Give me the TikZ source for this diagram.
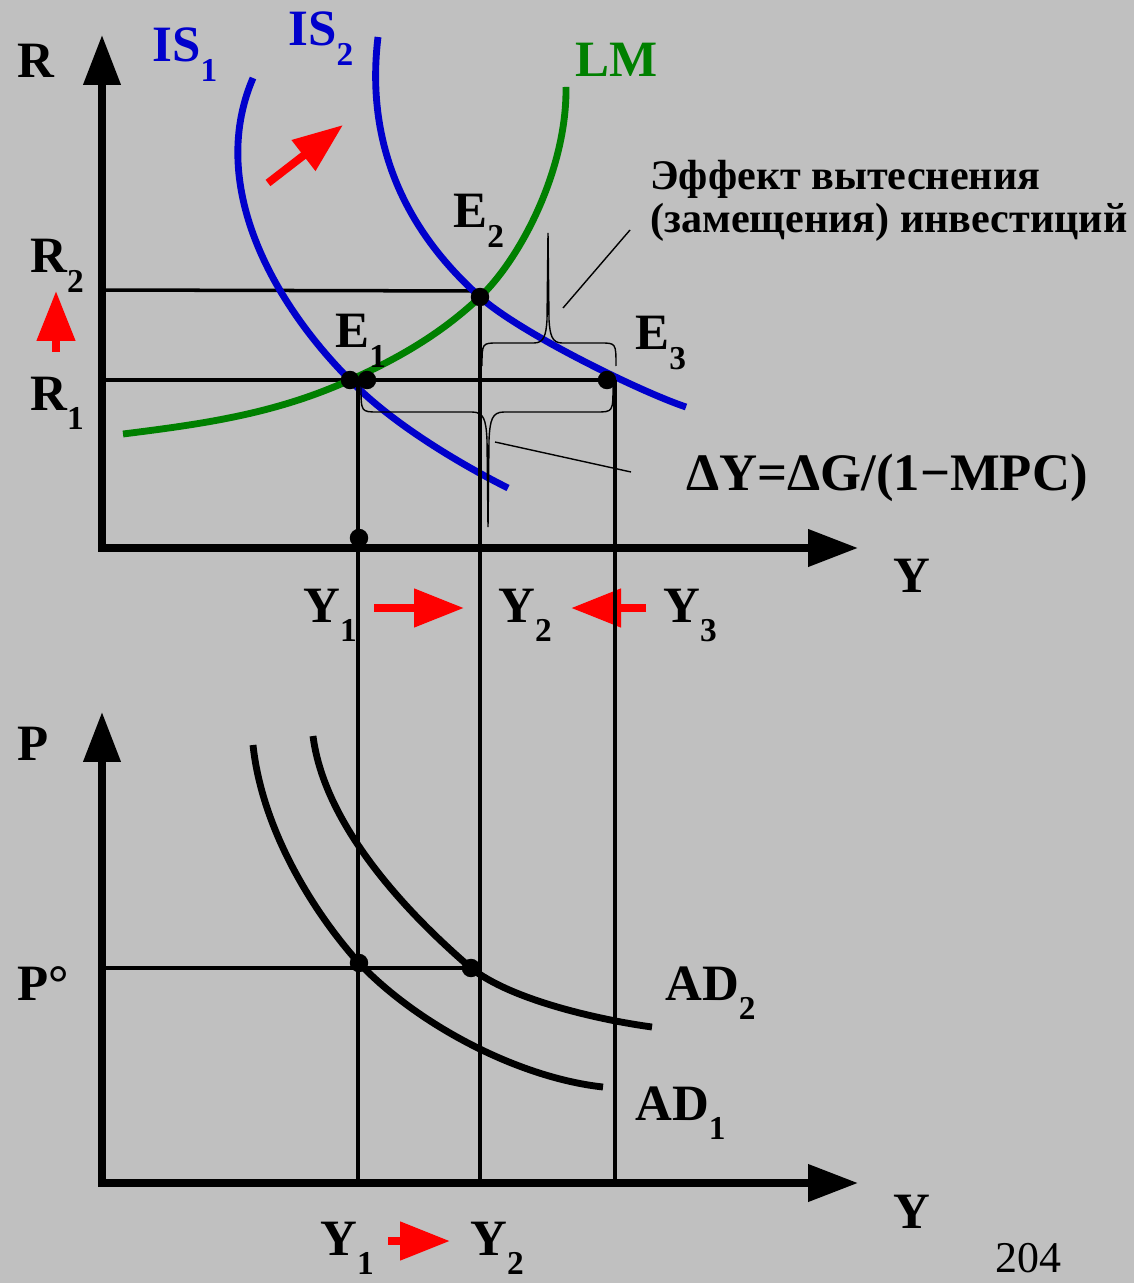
\documentclass[tikz,border=0pt]{standalone}
\usepackage{fontspec}
\setmainfont{Liberation Serif}
\usetikzlibrary{arrows.meta}
\definecolor{slide}{RGB}{192,192,192}
\definecolor{isblue}{RGB}{0,0,204}
\definecolor{lmgreen}{RGB}{0,128,0}
\newcommand\subidx[1]{\raisebox{-11pt}{\fontsize{19}{19}\selectfont #1}}

\begin{document}
\begin{tikzpicture}[
  x=0.02cm, y=-0.02cm,
  font=\fontsize{29}{34}\selectfont\bfseries,
  lbl/.style={anchor=base west, inner sep=0pt},
  note/.style={lbl, font=\fontsize{24}{28}\selectfont\bfseries},
  axis/.style={line width=4.2pt, {Triangle[length=1cm,width=0.72cm]}-{Triangle[length=1cm,width=0.72cm]}},
  guide/.style={line width=2pt},
  iscurve/.style={draw=isblue, line width=3.9pt},
  lmcurve/.style={draw=lmgreen, line width=3.9pt},
  adcurve/.style={draw=black, line width=3.9pt},
  dot/.style={circle, fill=black, inner sep=0pt, minimum size=10.5pt},
  brace/.style={line width=0.8pt},
  move/.style={draw=red, line width=4.5pt, -{Triangle[length=1cm,width=0.74cm]}}
]
\useasboundingbox (0,0) rectangle (1134,1283);
\fill[slide] (0,0) rectangle (1134,1283);

% top panel: IS-LM
\coordinate (rtip) at (102,35);
\coordinate (o1)   at (102,548);
\coordinate (ytip) at (858,548);
\draw[axis] (rtip) -- (o1) -- (ytip);

\coordinate (r1) at (102,380);
\coordinate (r2) at (102,290);
\coordinate (v1) at (358,380);
\coordinate (v3) at (615,380);
\draw[guide] (r2) -- (480,291);
\draw[guide] (r1) -- (v3);

\draw[iscurve] (253,78) .. controls (205,190) and (280,310) .. (350,380)
  .. controls (390,422) and (458,463) .. (508,488);
\draw[iscurve] (378,37) .. controls (362,170) and (430,252) .. (480,297)
  .. controls (520,333) and (641,392) .. (686,407);
\draw[lmcurve] (123,434) .. controls (203,424) and (275,414) .. (350,380)
  .. controls (395,360) and (440,335) .. (480,297)
  .. controls (520,259) and (567,170) .. (566,87);

\node[dot] (e1)  at (350,380) {};
\node[dot] (e1b) at (367,380) {};
\node[dot] (e2)  at (480,297) {};
\node[dot] (e3)  at (607,380) {};
\node[dot] (y1)  at (359,538) {};

\node[lbl, text=isblue]  (is1) at (152,62) {IS\subidx{1}};
\node[lbl, text=isblue]  (is2) at (288,46) {IS\subidx{2}};
\node[lbl, text=lmgreen] (lm)  at (575,77) {LM};
\node[lbl] (rlab)  at (17,78)  {R};
\node[lbl] (r2lab) at (30,273) {R\subidx{2}};
\node[lbl] (r1lab) at (30,410) {R\subidx{1}};
\node[lbl] (e1lab) at (335,348) {E\subidx{1}};
\node[lbl] (e2lab) at (453,228) {E\subidx{2}};
\node[lbl] (e3lab) at (635,350) {E\subidx{3}};
\node[lbl] (ylab)  at (893,592) {Y};
\node[lbl] (y1lab) at (303,622) {Y\subidx{1}};
\node[lbl] (y2lab) at (498,622) {Y\subidx{2}};
\node[lbl] (y3lab) at (663,622) {Y\subidx{3}};

% shifts
\draw[move] (268,183) -- (343,125);
\draw[move] (56,352) -- (56,291);
\draw[move] (374,608) -- (464,608);
\draw[move] (646,608) -- (571,608);

% braces and their notes
\draw[brace] (361,386) .. controls (361,412) .. (378,412) -- (472,412)
  .. controls (484,412) and (486,420) .. (487,440) -- (488,527) -- (489,440)
  .. controls (490,420) and (492,412) .. (504,412) -- (596,412) .. controls (613,412) .. (613,386);
\draw[brace] (482,366) .. controls (482,343) .. (498,343) -- (534,343)
  .. controls (544,343) and (546,335) .. (547,320) -- (548,233) -- (549,320)
  .. controls (550,335) and (552,343) .. (562,343) -- (600,343) .. controls (616,343) .. (616,366);

\node[note] (crowd1) at (650,190) {Эффект вытеснения};
\node[note] (crowd2) at (650,233) {(замещения) инвестиций};
\node[lbl, font=\fontsize{30}{34}\selectfont\bfseries] (mult) at (686,490) {ΔY=ΔG/(1−MPC)};
\coordinate (crowdfoot) at (563,308);
\coordinate (crowdhead) at (630,230);
\coordinate (multfoot)  at (495,442);
\coordinate (multhead)  at (631,472);
\draw[brace] (crowdfoot) -- (crowdhead);
\draw[brace] (multfoot) -- (multhead);

% bottom panel: AD
\coordinate (ptip)  at (102,712);
\coordinate (o2)    at (102,1183);
\coordinate (y2tip) at (858,1183);
\draw[axis] (ptip) -- (o2) -- (y2tip);

\coordinate (p0) at (102,968);
\draw[guide] (p0) -- (471,968);
\draw[guide] (v1) -- (v1 |- o2);
\draw[guide] (e2.center) -- (e2 |- o2);
\draw[guide] (v3) -- (v3 |- o2);

\draw[adcurve] (253,745) .. controls (262,830) and (314,913) .. (359,963)
  .. controls (419,1026) and (520,1078) .. (603,1087);
\draw[adcurve] (313,736) .. controls (325,830) and (415,920) .. (471,968)
  .. controls (511,1000) and (600,1020) .. (652,1027);
\node[dot] (a1) at (359,963) {};
\node[dot] (a2) at (471,968) {};

\node[lbl] (plab)   at (17,760)   {P};
\node[lbl] (p0lab)  at (17,1000)  {P°};
\node[lbl] (ad2lab) at (665,1000) {AD\subidx{2}};
\node[lbl] (ad1lab) at (635,1120) {AD\subidx{1}};
\node[lbl] (ybot)   at (893,1228) {Y};
\node[lbl] (y1bot)  at (320,1255) {Y\subidx{1}};
\node[lbl] (y2bot)  at (470,1255) {Y\subidx{2}};
\draw[move] (388,1241) -- (450,1241);
\node[lbl, font=\fontsize{25}{28}\selectfont] (page) at (995,1272) {204};
\end{tikzpicture}
\end{document}
